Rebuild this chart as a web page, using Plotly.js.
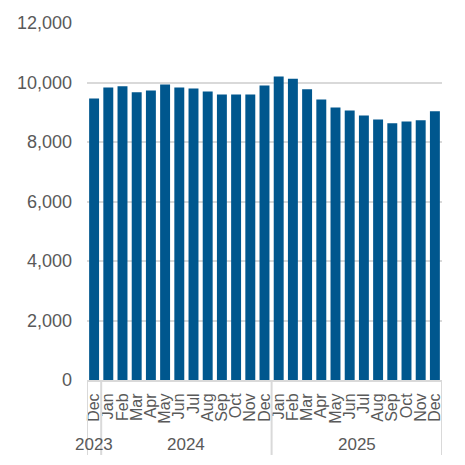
<!DOCTYPE html>
<html>
<head>
<meta charset="utf-8">
<script src="https://cdn.plot.ly/plotly-3.0.1.min.js"></script>
<style>
  body { margin: 0; background: #fff; }
  #chart { width: 465px; height: 465px; }
</style>
</head>
<body>
<div id="chart"></div>
<script>
// Monthly values, Dec 2023 - Dec 2025
var years = ['2023',
    '2024', '2024', '2024', '2024', '2024', '2024', '2024', '2024', '2024', '2024', '2024', '2024',
    '2025', '2025', '2025', '2025', '2025', '2025', '2025', '2025', '2025', '2025', '2025', '2025'];
var months = ['Dec',
    'Jan', 'Feb', 'Mar', 'Apr', 'May', 'Jun', 'Jul', 'Aug', 'Sep', 'Oct', 'Nov', 'Dec',
    'Jan', 'Feb', 'Mar', 'Apr', 'May', 'Jun', 'Jul', 'Aug', 'Sep', 'Oct', 'Nov', 'Dec'];
var values = [9460,
    9830, 9870, 9670, 9730, 9930, 9830, 9800, 9700, 9600, 9600, 9600, 9900,
    10200, 10130, 9770, 9430, 9160, 9060, 8890, 8760, 8630, 8690, 8730, 9030];

var grey = '#d9d9d9';
var textGrey = '#595959';

// unique category keys, month shown as tick text
var keys = [];
for (var i = 0; i < months.length; i++) {
    keys.push(months[i] + ' ' + years[i]);
}

// year groups -> divider lines and year labels under the months
var shapes = [];
var annotations = [];
var start = 0;
for (var i = 1; i <= years.length; i++) {
    if (i == years.length || years[i] != years[start]) {
        annotations.push({
            x: (start + i - 1) / 2, xref: 'x',
            y: -0.182, yref: 'paper',
            text: years[start],
            showarrow: false,
            xanchor: 'center', yanchor: 'middle',
            font: {size: 17, color: textGrey}
        });
        shapes.push({
            type: 'line', xref: 'x', yref: 'paper',
            x0: i - 0.5, x1: i - 0.5, y0: 0, y1: -0.21,
            line: {color: grey, width: 2}
        });
        start = i;
    }
}
// left edge divider
shapes.push({
    type: 'line', xref: 'x', yref: 'paper',
    x0: -0.5, x1: -0.5, y0: 0, y1: -0.21,
    line: {color: grey, width: 2}
});

var data = [
    {
      x: keys,
      y: values,
      type: 'bar',
      marker: {
        color: '#00578e' // dark blue bars
      },
      hoverinfo: 'x+y'
    }
  ];

var layout = {
    width: 465,
    height: 465,
    margin: {l: 87, r: 23, t: 23, b: 85},
    paper_bgcolor: '#ffffff',
    plot_bgcolor: '#ffffff',
    showlegend: false,
    bargap: 0.3,
    font: {family: 'Liberation Sans, Arial, sans-serif', color: textGrey},
    xaxis: {
      type: 'category',
      tickmode: 'array',
      tickvals: keys,
      ticktext: months,
      tickangle: -90,
      tickfont: {size: 16, color: textGrey},
      ticklabelstandoff: 5,
      showline: true,
      linecolor: grey,
      linewidth: 2,
      ticks: '',
      showgrid: false,
      range: [-0.5, keys.length - 0.5]
    },
    yaxis: {
      range: [0, 12000],
      dtick: 2000,
      tickformat: ',d',
      tickfont: {size: 18, color: textGrey},
      gridcolor: grey,
      gridwidth: 2,
      zeroline: false,
      ticklabelstandoff: 14,
      showline: false
    },
    shapes: shapes,
    annotations: annotations
};

var config = {responsive: false, displayModeBar: false}

Plotly.newPlot('chart', data, layout, config);
</script>
</body>
</html>
